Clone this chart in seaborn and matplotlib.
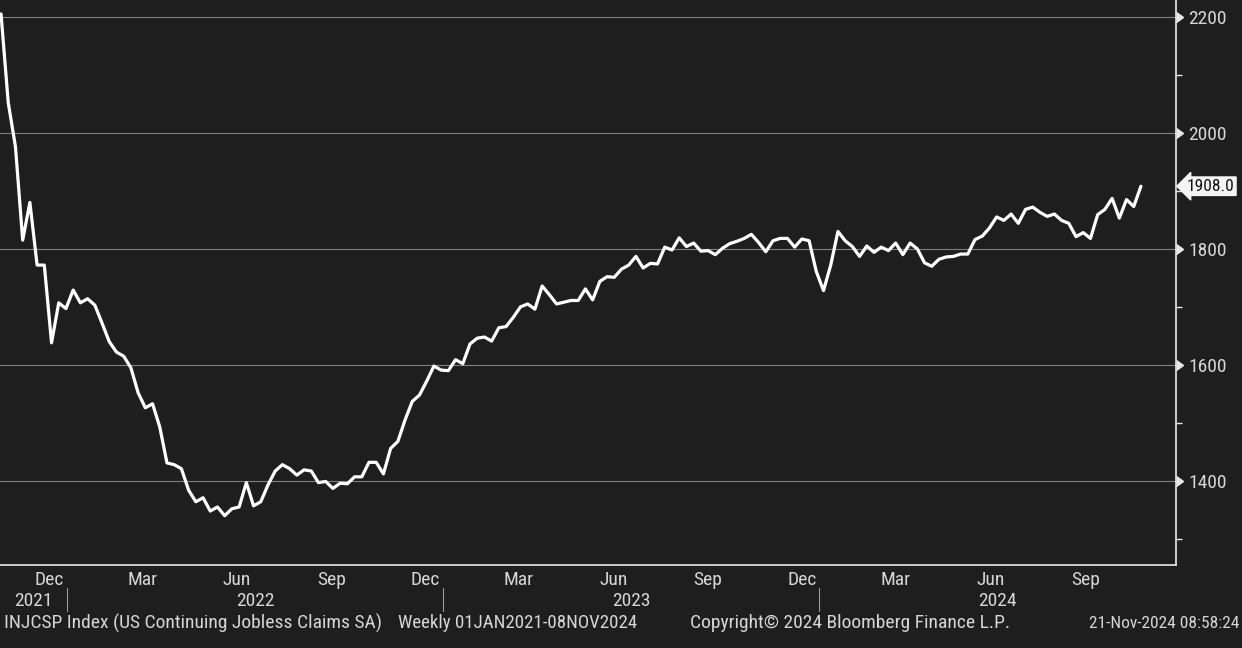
import numpy as np
import pandas as pd
import matplotlib
matplotlib.use("Agg")
import matplotlib.pyplot as plt
import matplotlib.dates as mdates
import matplotlib.transforms as mtransforms
from matplotlib.lines import Line2D
from matplotlib import font_manager as fm
import seaborn as sns

# ---------------- data ----------------
start_date = "2021-10-29"
claims = [
    2205, 2052, 1976, 1815, 1880, 1772, 1772, 1638, 1707, 1697,
    1729, 1707, 1714, 1703, 1672, 1640, 1622, 1615, 1595, 1552,
    1526, 1533, 1493, 1431, 1428, 1421, 1384, 1364, 1371, 1348,
    1355, 1340, 1352, 1355, 1397, 1357, 1364, 1393, 1417, 1428,
    1421, 1410, 1419, 1417, 1397, 1399, 1387, 1396, 1395, 1407,
    1407, 1432, 1432, 1412, 1456, 1468, 1505, 1537, 1548, 1572,
    1598, 1591, 1590, 1609, 1602, 1636, 1646, 1648, 1641, 1664,
    1666, 1682, 1700, 1705, 1696, 1736, 1721, 1705, 1708, 1711,
    1711, 1731, 1712, 1744, 1752, 1751, 1765, 1772, 1787, 1767,
    1775, 1774, 1803, 1798, 1819, 1804, 1810, 1796, 1797, 1790,
    1801, 1809, 1813, 1818, 1825, 1811, 1795, 1814, 1818, 1818,
    1803, 1817, 1814, 1761, 1728, 1772, 1830, 1814, 1804, 1787,
    1805, 1794, 1803, 1797, 1810, 1790, 1810, 1800, 1776, 1770,
    1782, 1786, 1787, 1791, 1791, 1816, 1822, 1836, 1855, 1849,
    1860, 1844, 1868, 1872, 1863, 1856, 1860, 1849, 1844, 1821,
    1828, 1818, 1859, 1868, 1887, 1853, 1885, 1873, 1908,
]
dates = pd.date_range(start_date, periods=len(claims), freq="7D")
df = pd.DataFrame({"date": dates, "claims": claims})

y_major = [1400, 1600, 1800, 2000, 2200]
y_minor = [1300, 1500, 1700, 1900, 2100]
month_label_months = [12, 3, 6, 9]
years = [2021, 2022, 2023, 2024]
last_label = "1908.0"
footer_left = "INJCSP Index (US Continuing Jobless Claims SA)"
footer_mid = "Weekly 01JAN2021-08NOV2024"
footer_copy = "Copyright\u00a9 2024 Bloomberg Finance L.P."
footer_time = "21-Nov-2024 08:58:24"

# ---------------- style ----------------
BG = "#1e1e1e"
FG = "#d6d6d6"
GRID = "#808080"
FS = 14

sns.set_theme(style="dark")
names = {f.name for f in fm.fontManager.ttflist}
font_family = "DejaVu Sans"
for cand in ["Liberation Sans Narrow", "Roboto Condensed", "Open Sans Condensed"]:
    if cand in names:
        font_family = cand
        break
plt.rcParams["font.family"] = [font_family, "DejaVu Sans"]
plt.rcParams["axes.facecolor"] = BG
plt.rcParams["figure.facecolor"] = BG

W, H = 1242, 648
fig = plt.figure(figsize=(W / 100, H / 100), dpi=100)
ax_right_px, ax_bottom_px = 1176, 565
ax = fig.add_axes([0, (H - ax_bottom_px) / H, ax_right_px / W, ax_bottom_px / H])
ax.set_facecolor(BG)

sns.lineplot(data=df, x="date", y="claims", ax=ax, color="white", linewidth=2.3)

x0 = pd.Timestamp("2021-10-28")
x1 = pd.Timestamp("2024-12-12")
ax.set_xlim(x0, x1)
ax.set_ylim(1255, 2229)

# grid
for v in y_major:
    ax.axhline(v, color=GRID, linewidth=0.8, zorder=0)

# spines
for s in ["top", "left"]:
    ax.spines[s].set_visible(False)
for s in ["right", "bottom"]:
    ax.spines[s].set_visible(True)
    ax.spines[s].set_color("#e8e8e8")
    ax.spines[s].set_linewidth(1.2)

# y axis on right
ax.yaxis.tick_right()
ax.set_yticks(y_major)
ax.set_yticks(y_minor, minor=True)
ax.set_yticklabels([str(v) for v in y_major])
ax.tick_params(axis="y", which="major", length=0, pad=9, labelsize=FS, labelcolor=FG)
ax.tick_params(axis="y", which="minor", length=4, width=1, color="#e8e8e8", direction="out")
# triangle tick marks
ytrans = mtransforms.blended_transform_factory(ax.transAxes, ax.transData)
ax.plot([1.0] * len(y_major), y_major, linestyle="none", marker=9, markersize=7,
        color="#e8e8e8", transform=ytrans, clip_on=False)

# x axis: ticks at month starts, labels mid-month every 3 months
ax.xaxis.set_major_locator(mdates.MonthLocator())
ax.xaxis.set_major_formatter(plt.NullFormatter())
ax.xaxis.set_minor_locator(mdates.MonthLocator(bymonth=month_label_months, bymonthday=15))
ax.xaxis.set_minor_formatter(mdates.DateFormatter("%b"))
ax.tick_params(axis="x", which="major", length=4, width=1, color="#e8e8e8", direction="out")
ax.tick_params(axis="x", which="minor", length=0, pad=4, labelsize=FS, labelcolor=FG)
ax.set_xlabel("")
ax.set_ylabel("")
ax.grid(False)

# year labels & separators
xtrans = mtransforms.blended_transform_factory(ax.transData, ax.transAxes)
ymid = -(601 - ax_bottom_px) / ax_bottom_px
for yr in years:
    ys = max(pd.Timestamp(f"{yr}-01-01"), x0)
    ye = min(pd.Timestamp(f"{yr + 1}-01-01"), x1)
    mid = ys + (ye - ys) / 2
    ax.text(mid, ymid, str(yr), transform=xtrans, ha="center", va="center",
            fontsize=FS, color=FG)
    if yr > years[0]:
        ax.add_line(Line2D([mdates.date2num(ys)] * 2,
                           [-(588 - ax_bottom_px) / ax_bottom_px, -(611 - ax_bottom_px) / ax_bottom_px],
                           transform=xtrans, color="#9a9a9a", linewidth=0.8, clip_on=False))

# last value label
ax.text(1.009, claims[-1], last_label, transform=ytrans, ha="left", va="center",
        fontsize=12.5, color="#111111",
        bbox=dict(boxstyle="larrow,pad=0.1", fc="#f4f4f4", ec="#f4f4f4"))

# footer
fy = (H - 623) / H
fig.text(4 / W, fy, footer_left, ha="left", va="center", fontsize=FS, color=FG)
fig.text(398 / W, fy, footer_mid, ha="left", va="center", fontsize=13.6, color=FG)
fig.text(690 / W, fy, footer_copy, ha="left", va="center", fontsize=FS, color=FG)
fig.text(1239 / W, fy, footer_time, ha="right", va="center", fontsize=12.5, color=FG)

fig.savefig("out.png", dpi=100, facecolor=BG)
